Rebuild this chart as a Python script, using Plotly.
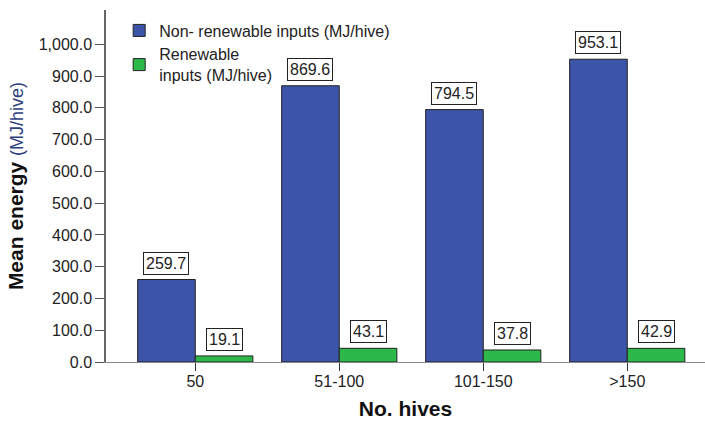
import plotly.graph_objects as go

categories = ["50", "51-100", "101-150", ">150"]
non_renewable = [259.7, 869.6, 794.5, 953.1]
renewable = [19.1, 43.1, 37.8, 42.9]
y_ticks = [0, 100, 200, 300, 400, 500, 600, 700, 800, 900, 1000]

pos = list(range(len(categories)))
off = 0.2
bw = 0.4
x_nr = [p - off for p in pos]
x_r = [p + off for p in pos]

fig = go.Figure()
fig.add_bar(x=x_nr, y=non_renewable, width=bw, name="Non- renewable inputs (MJ/hive)",
            marker=dict(color="#3d55a8", line=dict(color="#222222", width=1)))
fig.add_bar(x=x_r, y=renewable, width=bw, name="Renewable<br>inputs (MJ/hive)",
            marker=dict(color="#2db84a", line=dict(color="#222222", width=1)))

annotations = []
for xs, vals in ((x_nr, non_renewable), (x_r, renewable)):
    for xv, v in zip(xs, vals):
        annotations.append(dict(
            x=xv, y=v, xref="x", yref="y", text=f"{v:.1f}", showarrow=False,
            yanchor="bottom", yshift=5, bgcolor="white", bordercolor="#222222",
            borderwidth=1, borderpad=2, font=dict(size=16, color="#222222")))

fig.update_layout(
    width=705, height=424,
    margin=dict(l=106, r=0, t=10, b=62),
    plot_bgcolor="white", paper_bgcolor="white",
    font=dict(family="Liberation Sans, Arial, sans-serif", size=16, color="#222222"),
    barmode="overlay",
    showlegend=True,
    legend=dict(x=0.022, y=0.99, xanchor="left", yanchor="top",
                bgcolor="rgba(0,0,0,0)", font=dict(size=16), traceorder="normal",
                tracegroupgap=6),
    annotations=annotations,
    xaxis=dict(range=[-0.62, 3.54], tickvals=pos, ticktext=categories,
               showline=True, linecolor="#888888", linewidth=1,
               ticks="outside", ticklen=8, tickcolor="#333333",
               ticklabelstandoff=-3,
               showgrid=False, zeroline=False,
               title=dict(text="<b>No. hives</b>", font=dict(size=21, color="#111111"), standoff=12)),
    yaxis=dict(range=[0, 1108], tickvals=y_ticks, tickformat=",.1f",
               showline=True, linecolor="#666666", linewidth=1.5,
               ticks="outside", ticklen=9, tickcolor="#555555",
               showgrid=False, zeroline=False,
               title=dict(text="<b>Mean energy</b> <span style='font-size:18px;color:#2e3f7f'>(MJ/hive)</span>",
                          font=dict(size=21, color="#111111"), standoff=9)),
)

fig.write_html("out.html", config={"displayModeBar": False},
               post_script="document.body.style.margin='0';document.body.style.padding='0';")
